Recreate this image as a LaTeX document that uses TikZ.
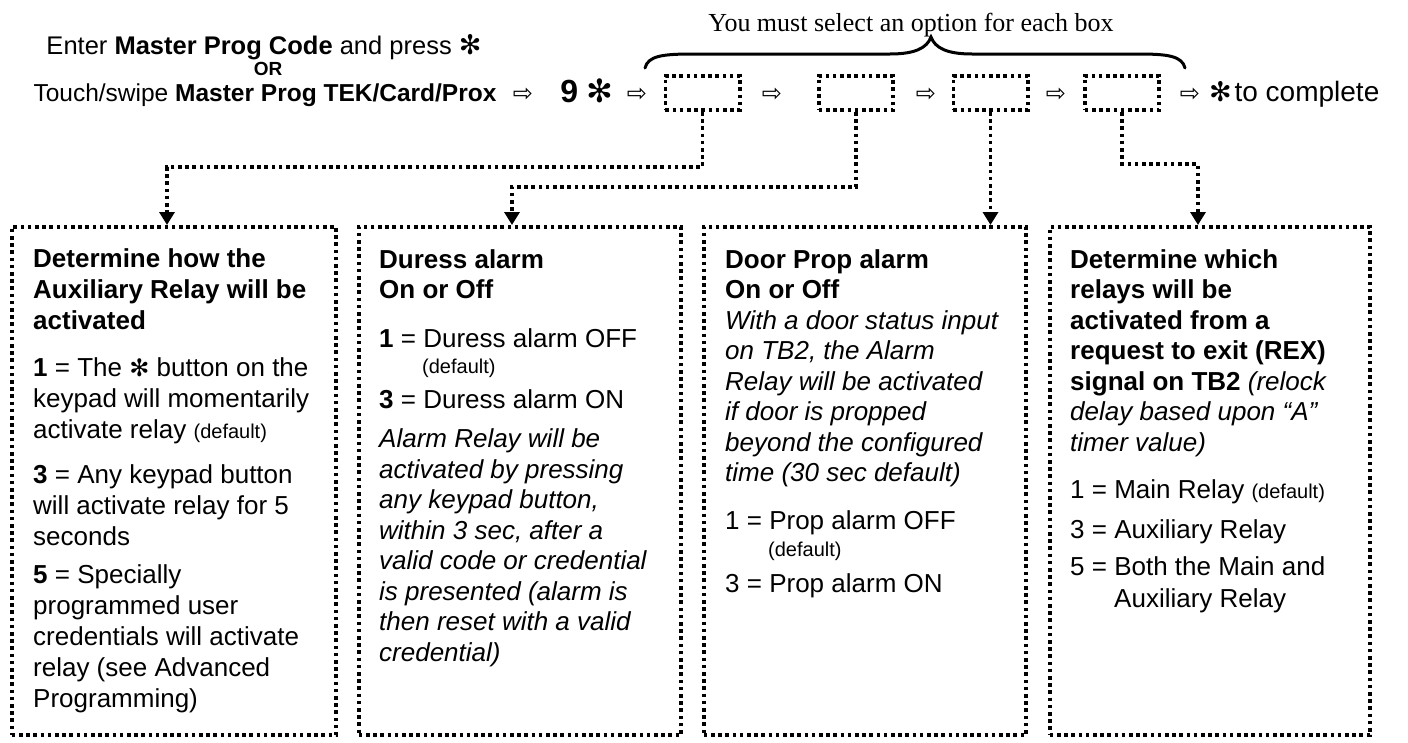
\documentclass[tikz,border=0pt]{standalone}
\usepackage{fontspec}
\setmainfont{Liberation Sans}
\newfontfamily\symf{DejaVu Sans}
\newfontfamily\serf{Liberation Serif}
\usetikzlibrary{arrows.meta}
\newcommand\dfltxt[1]{{\fontsize{20}{24}\selectfont #1}}
\newcommand\fs[1]{\fontsize{#1}{#1}\selectfont}
\begin{document}
\begin{tikzpicture}[x=1pt,y=-1pt,
  dotline/.style={line width=3.6pt, dash pattern=on 3.6pt off 3.6pt},
  smallbox/.style={dotline, draw, minimum width=74.4pt, minimum height=34.4pt, inner sep=0pt},
  bigbox/.style={dotline, draw, minimum height=508.4pt, inner sep=0pt},
  conn/.style={dotline, -{Triangle[width=15pt,length=13pt]}},
  txt/.style={anchor=base west, inner sep=0pt},
  harrow/.style={inner sep=0pt, font=\symf\fs{24}},
]
\fill[white] (0,0) rectangle (1408,742);
\useasboundingbox (0,0) rectangle (1408,742);

% header
\node[anchor=base, inner sep=0pt] (h1) at (264,54) {\fs{25.5}Enter \textbf{Master Prog Code} and press {\symf\bfseries\fs{27}✻}};
\node[anchor=base, inner sep=0pt] (h2) at (268,75) {\fs{19}\textbf{OR}};
\node[anchor=base, inner sep=0pt] (h3) at (265,101) {\fs{24.5}Touch/swipe \textbf{Master Prog TEK/Card/Prox}};

\node[harrow] (a0) at (523,95) {⇨};
\node[anchor=base, inner sep=0pt] (nine) at (587,102) {\fs{32}\bfseries 9 {\symf ✻}};
\node[harrow] (a1) at (637,95) {⇨};
\node[harrow] (a2) at (772,95) {⇨};
\node[harrow] (a3) at (926,95) {⇨};
\node[harrow] (a4) at (1056,95) {⇨};
\node[harrow] (a5) at (1190,95) {⇨};
\node[txt] (comp) at (1209,101) {{\symf\bfseries\fs{27}✻} \fs{28}to complete};

% small boxes
\node[smallbox] (s1) at (702.5,93) {};
\node[smallbox] (s2) at (856,93) {};
\node[smallbox] (s3) at (990.5,93) {};
\node[smallbox] (s4) at (1122,93) {};

% brace and note
\draw[line width=3pt, line cap=round] (645,68) .. controls (648,56) and (662,54) .. (693,54) -- (890,54) .. controls (915,54) and (927,48) .. (931,37) .. controls (935,48) and (947,54) .. (972,54) -- (1138,54) .. controls (1168,54) and (1182,56) .. (1185,68);
\node[anchor=base, inner sep=0pt] (note) at (911,31) {\serf\fs{26}You must select an option for each box};

% big boxes
\node[bigbox, minimum width=324.4pt] (b1) at (174,481) {};
\node[bigbox, minimum width=322.4pt] (b2) at (520,481) {};
\node[bigbox, minimum width=322.4pt] (b3) at (865,481) {};
\node[bigbox, minimum width=320.4pt] (b4) at (1210,481) {};

% connectors
\coordinate (k1) at (167,167);
\coordinate (k2) at (512,187);
\coordinate (k4) at (1198,164);
\draw[conn] (s1.south) |- (k1) -- (k1 |- b1.north);
\draw[conn] (s2.south) |- (k2) -- (k2 |- b2.north);
\draw[conn] (s3.south) -- (s3.south |- b3.north);
\draw[conn] (s4.south) |- (k4) -- (k4 |- b4.north);

% box texts
\node[txt] (t1) at (33,267) {\parbox[t]{310pt}{\raggedright\fontsize{26}{31}\selectfont
\textbf{Determine how the}\\
\textbf{Auxiliary Relay will be}\\
\textbf{activated}\\[16pt]
\textbf{1} = The {\symf\fs{24}✻} button on the\\
keypad will momentarily\\
activate relay \dfltxt{(default)}\\[14pt]
\textbf{3} = Any keypad button\\
will activate relay for 5\\
seconds\\[7pt]
\textbf{5} = Specially\\
programmed user\\
credentials will activate\\
relay (see Advanced\\
Programming)}};

\node[txt] (t2) at (379,268) {\parbox[t]{300pt}{\raggedright\fontsize{26}{30.5}\selectfont
\textbf{Duress alarm}\\
\textbf{On or Off}\\[18.5pt]
\textbf{1} = Duress alarm OFF\\[-4.5pt]
\hspace*{43pt}\dfltxt{(default)}\\[4.5pt]
\textbf{3} = Duress alarm ON\\[8.5pt]
\textit{Alarm Relay will be}\\
\textit{activated by pressing}\\
\textit{any keypad button,}\\
\textit{within 3 sec, after a}\\
\textit{valid code or credential}\\
\textit{is presented (alarm is}\\
\textit{then reset with a valid}\\
\textit{credential)}}};

\node[txt] (t3) at (725,268) {\parbox[t]{300pt}{\raggedright\fontsize{26}{30.5}\selectfont
\textbf{Door Prop alarm}\\
\textbf{On or Off}\\
\textit{With a door status input}\\
\textit{on TB2, the Alarm}\\
\textit{Relay will be activated}\\
\textit{if door is propped}\\
\textit{beyond the configured}\\
\textit{time (30 sec default)}\\[17.5pt]
1 = Prop alarm OFF\\[-3.5pt]
\hspace*{43pt}\dfltxt{(default)}\\[5.5pt]
3 = Prop alarm ON}};

\node[txt] (t4) at (1070,268) {\parbox[t]{300pt}{\raggedright\fontsize{26}{30.5}\selectfont
\textbf{Determine which}\\
\textbf{relays will be}\\
\textbf{activated from a}\\
\textbf{request to exit (REX)}\\
\textbf{signal on TB2} \textit{(relock}\\
\textit{delay based upon “A”}\\
\textit{timer value)}\\[17pt]
1 = Main Relay \dfltxt{(default)}\\[9.5pt]
3 = Auxiliary Relay\\[6.5pt]
5 = Both the Main and\\[1.5pt]
\hspace*{44pt}Auxiliary Relay}};
\end{tikzpicture}
\end{document}
